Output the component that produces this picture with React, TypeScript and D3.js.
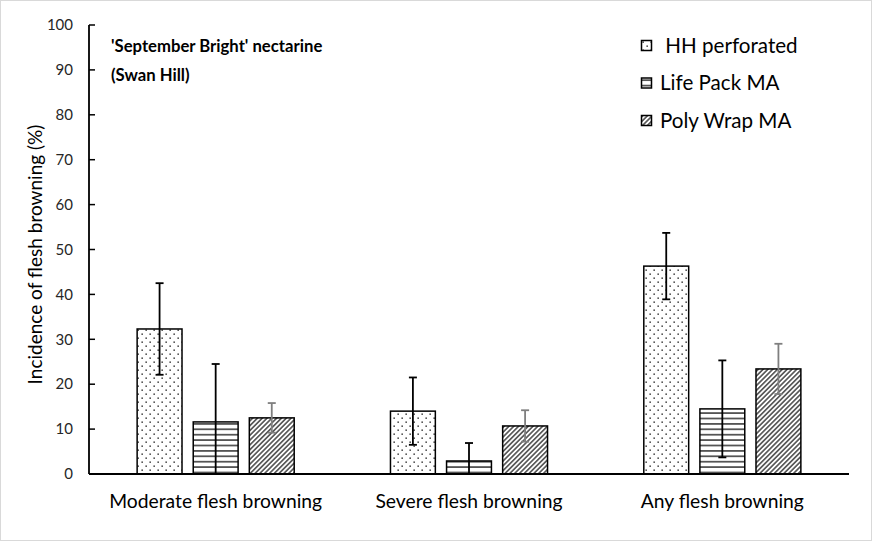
import { useEffect } from "react";
import * as d3 from "d3";

const categories = ["Moderate flesh browning", "Severe flesh browning", "Any flesh browning"];
const seriesNames = [" HH perforated", "Life Pack MA", "Poly Wrap MA"];
const hhValues = [32.3, 14.0, 46.3];
const hhErrors = [10.2, 7.5, 7.4];
const lifePackValues = [11.6, 2.9, 14.5];
const lifePackErrors = [12.9, 4.0, 10.8];
const polyWrapValues = [12.5, 10.7, 23.4];
const polyWrapErrors = [3.3, 3.5, 5.6];
const yTicks = [0, 10, 20, 30, 40, 50, 60, 70, 80, 90, 100];

const W = 872;
const H = 541;
const margin = { top: 25, right: 23, bottom: 67, left: 89 };
const font = "Lato, sans-serif";

export default function App() {
  useEffect(() => {
    document.body.style.margin = "0";
  }, []);

  const series = [
    { name: seriesNames[0], values: hhValues, errors: hhErrors, fill: "url(#dots)", err: "#000" },
    { name: seriesNames[1], values: lifePackValues, errors: lifePackErrors, fill: "url(#hlines)", err: "#000" },
    { name: seriesNames[2], values: polyWrapValues, errors: polyWrapErrors, fill: "url(#diag)", err: "#7f7f7f" },
  ];

  const x0 = d3
    .scaleBand<string>()
    .domain(categories)
    .range([margin.left, W - margin.right])
    .paddingInner(0.38)
    .paddingOuter(0.19);
  const x1 = d3
    .scaleBand<string>()
    .domain(seriesNames)
    .range([0, x0.bandwidth()])
    .paddingInner(0.2);
  const y = d3.scaleLinear().domain([0, 100]).range([H - margin.bottom, margin.top]);

  const capW = 4;

  return (
    <svg width={W} height={H} style={{ display: "block", fontFamily: font }}>
      <defs>
        <pattern id="dots" width="8" height="8" patternUnits="userSpaceOnUse">
          <rect width="8" height="8" fill="#fff" />
          <rect x="1.5" y="1.5" width="1.3" height="1.3" fill="#000" />
          <rect x="5.5" y="5.5" width="1.3" height="1.3" fill="#000" />
        </pattern>
        <pattern id="hlines" width="8" height="5.4" patternUnits="userSpaceOnUse">
          <rect width="8" height="5.4" fill="#fff" />
          <line x1="0" x2="8" y1="2.7" y2="2.7" stroke="#000" strokeWidth="1.2" />
        </pattern>
        <pattern id="diag" width="3.4" height="3.4" patternUnits="userSpaceOnUse" patternTransform="rotate(45)">
          <rect width="3.4" height="3.4" fill="#fff" />
          <line x1="1.7" x2="1.7" y1="0" y2="3.4" stroke="#000" strokeWidth="1.1" />
        </pattern>
      </defs>
      <rect x={0.5} y={0.5} width={W - 1} height={H - 1} fill="#fff" stroke="#d9d9d9" />

      {/* bars */}
      {categories.map((c, ci) => (
        <g key={c}>
          {series.map((s) => {
            const bx = (x0(c) ?? 0) + (x1(s.name) ?? 0);
            const v = s.values[ci];
            return (
              <rect
                key={s.name}
                x={bx}
                y={y(v)}
                width={x1.bandwidth()}
                height={y(0) - y(v)}
                fill={s.fill}
                stroke="#000"
                strokeWidth={1.5}
              />
            );
          })}
        </g>
      ))}

      {/* error bars */}
      {categories.map((c, ci) => (
        <g key={c + "-err"}>
          {series.map((s) => {
            const cx = (x0(c) ?? 0) + (x1(s.name) ?? 0) + x1.bandwidth() / 2;
            const v = s.values[ci];
            const e = s.errors[ci];
            const lo = Math.max(0, v - e);
            const hi = v + e;
            return (
              <g key={s.name} stroke={s.err} strokeWidth={1.8}>
                <line x1={cx} x2={cx} y1={y(lo)} y2={y(hi)} />
                <line x1={cx - capW} x2={cx + capW} y1={y(hi)} y2={y(hi)} />
                {v - e > 0 && <line x1={cx - capW} x2={cx + capW} y1={y(lo)} y2={y(lo)} />}
              </g>
            );
          })}
        </g>
      ))}

      {/* y axis */}
      <line x1={margin.left} x2={margin.left} y1={y(100)} y2={y(0)} stroke="#000" strokeWidth={1.8} />
      {yTicks.map((t) => (
        <g key={t}>
          <line x1={margin.left} x2={margin.left + 6} y1={y(t)} y2={y(t)} stroke="#000" strokeWidth={1.5} />
          <text x={margin.left - 16} y={y(t)} dy="0.35em" textAnchor="end" fontSize={15} fill="#262626">
            {t}
          </text>
        </g>
      ))}
      {/* x axis */}
      <line x1={margin.left} x2={W - margin.right} y1={y(0)} y2={y(0)} stroke="#000" strokeWidth={1.8} />
      {categories.map((c) => (
        <text
          key={c}
          x={(x0(c) ?? 0) + x0.bandwidth() / 2}
          y={y(0) + 34}
          textAnchor="middle"
          fontSize={19.3}
          fill="#000"
        >
          {c}
        </text>
      ))}

      <text
        transform={`translate(42,${(y(0) + y(100)) / 2 + 5}) rotate(-90)`}
        textAnchor="middle"
        fontSize={19}
        fill="#000"
      >
        Incidence of flesh browning (%)
      </text>

      <text x={111} y={52} fontSize={16.7} fontWeight="bold" fill="#000">
        'September Bright' nectarine
      </text>
      <text x={111} y={81} fontSize={16.7} fontWeight="bold" fill="#000">
        (Swan Hill)
      </text>

      {/* legend */}
      {series.map((s, i) => (
        <g key={s.name} transform={`translate(641,${40 + i * 37.5})`}>
          <rect x={0.5} y={0.5} width={10} height={10} fill={s.fill} stroke="#000" strokeWidth={1.5} />
          <text x={19} y={5.5} dy="0.35em" fontSize={20.6} fill="#000" style={{ whiteSpace: "pre" }}>
            {s.name}
          </text>
        </g>
      ))}
    </svg>
  );
}
